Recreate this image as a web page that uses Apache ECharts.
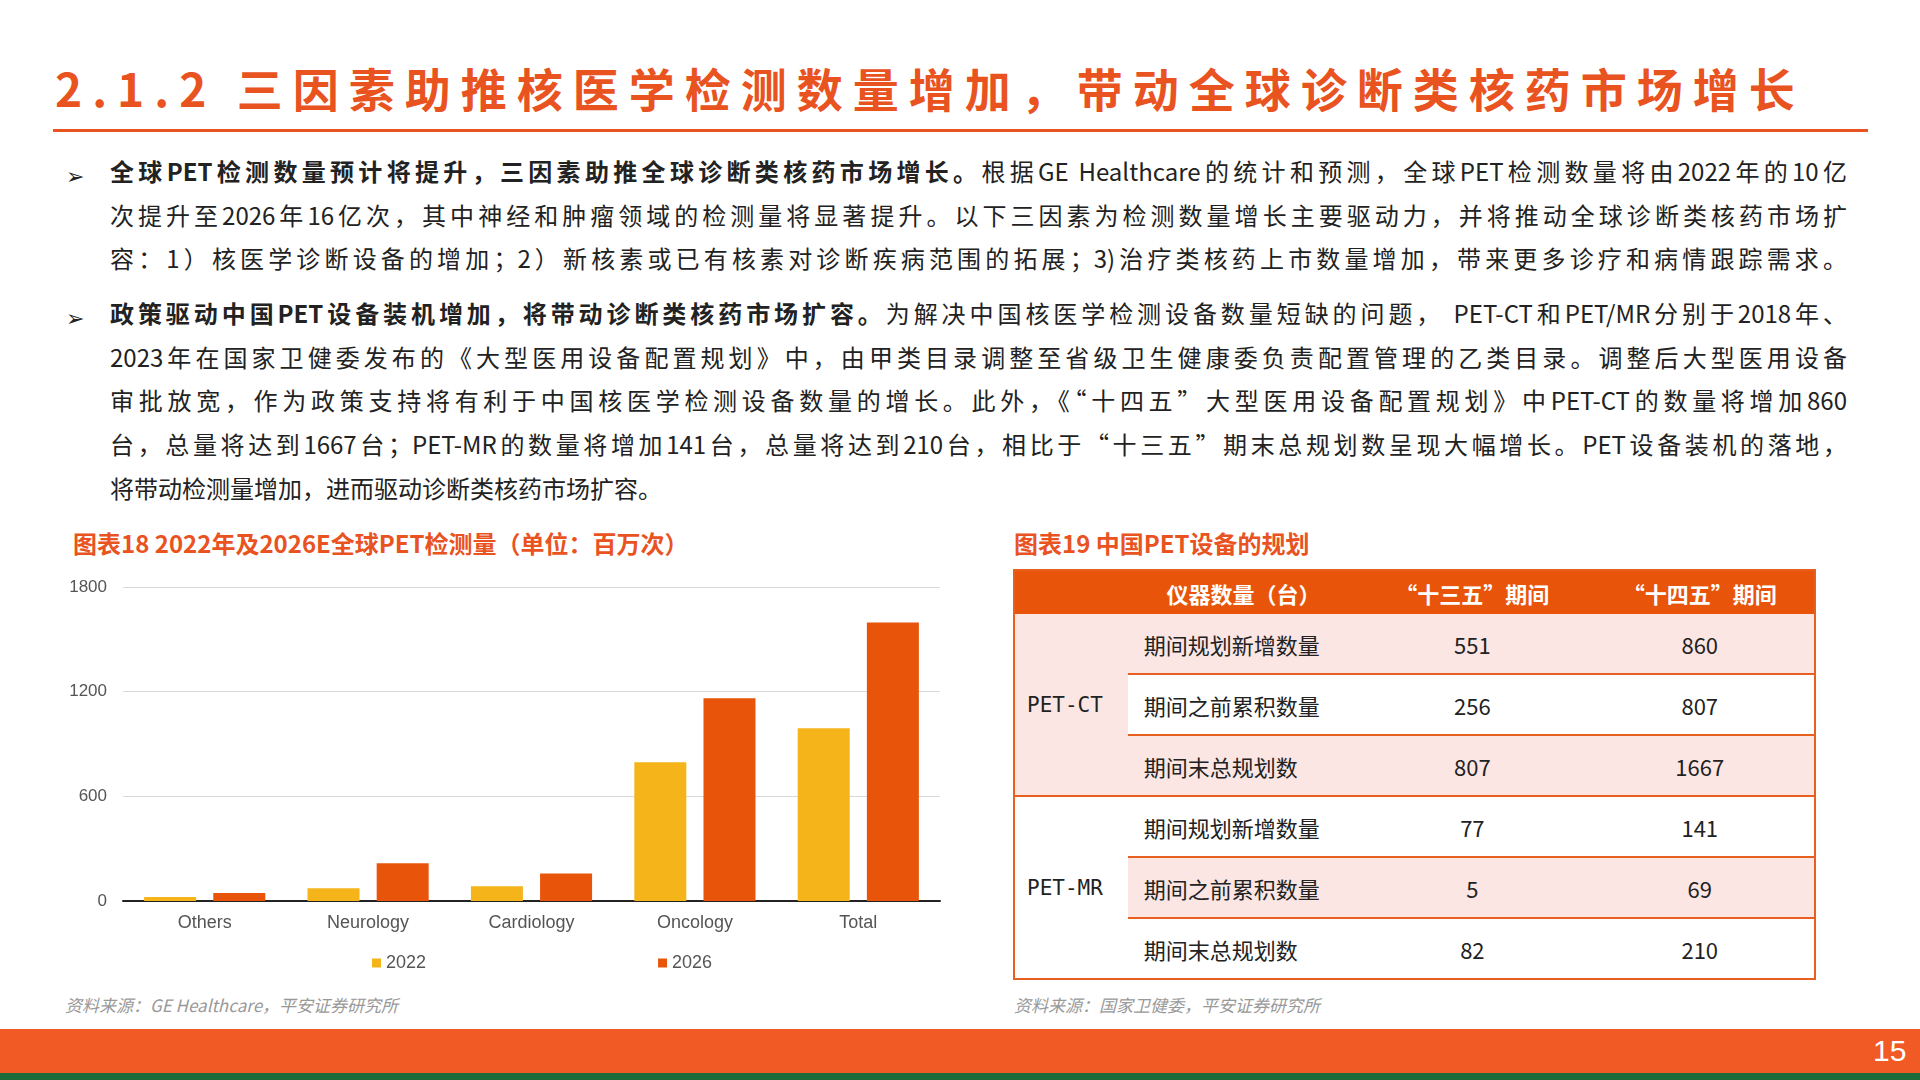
<!DOCTYPE html>
<html><head><meta charset="utf-8">
<script src="https://cdn.jsdelivr.net/npm/echarts@6/dist/echarts.min.js"></script>
<style>
body{margin:0;width:1920px;height:1080px;position:relative;background:#fff;font-family:"Noto Sans CJK SC","Noto Sans",sans-serif;overflow:hidden}
.abs{position:absolute}
#title{left:55px;top:54px;font-size:46px;font-weight:bold;color:#E8531F;letter-spacing:10px;white-space:nowrap}
#rule{left:53px;top:129px;width:1815px;height:3px;background:#E8531F}
.p{left:110px;width:1737px;font-size:24px;line-height:43.7px;color:#222}
.p div{text-align:justify;text-align-last:justify;white-space:nowrap;overflow:visible}
.p div.last{text-align-last:left}
.bul{left:66px;font-size:22px;color:#222}
.ct{font-size:24px;color:#E8531F;font-weight:bold;white-space:nowrap}
.src{font-size:17px;color:#999;font-style:italic;white-space:nowrap}
table{border-collapse:collapse;font-size:22px;color:#222}
td{height:59px;text-align:center;padding:0}
th{height:41px;background:#E8550A;color:#fff;font-weight:bold;font-size:22px}
.pk{background:#FBE6E4}
.bt{border-top:2px solid #E8601F}
</style></head><body>
<div id="title" class="abs">2.1.2 三因素助推核医学检测数量增加，带动全球诊断类核药市场增长</div>
<div id="rule" class="abs"></div>
<div class="abs bul" style="top:158px">➢</div>
<div class="abs p" style="top:149px">
<div><b>全球PET检测数量预计将提升，三因素助推全球诊断类核药市场增长。</b>根据GE Healthcare的统计和预测，全球PET检测数量将由2022年的10亿</div>
<div>次提升至2026年16亿次，其中神经和肿瘤领域的检测量将显著提升。以下三因素为检测数量增长主要驱动力，并将推动全球诊断类核药市场扩</div>
<div>容：1）核医学诊断设备的增加；2）新核素或已有核素对诊断疾病范围的拓展；3)治疗类核药上市数量增加，带来更多诊疗和病情跟踪需求。</div>
</div>
<div class="abs bul" style="top:300px">➢</div>
<div class="abs p" style="top:291px">
<div><b>政策驱动中国PET设备装机增加，将带动诊断类核药市场扩容。</b>为解决中国核医学检测设备数量短缺的问题， PET-CT和PET/MR分别于2018年、</div>
<div>2023年在国家卫健委发布的《大型医用设备配置规划》中，由甲类目录调整至省级卫生健康委负责配置管理的乙类目录。调整后大型医用设备</div>
<div>审批放宽，作为政策支持将有利于中国核医学检测设备数量的增长。此外，《“十四五”大型医用设备配置规划》中PET-CT的数量将增加860</div>
<div>台，总量将达到1667台；PET-MR的数量将增加141台，总量将达到210台，相比于“十三五”期末总规划数呈现大幅增长。PET设备装机的落地，</div>
<div class="last">将带动检测量增加，进而驱动诊断类核药市场扩容。</div>
</div>
<div class="abs ct" style="left:73px;top:525px">图表18 2022年及2026E全球PET检测量（单位：百万次）</div>
<div class="abs ct" style="left:1014px;top:525px">图表19 中国PET设备的规划</div>
<div id="chart" class="abs" style="left:40px;top:570px;width:920px;height:420px"></div>
<table class="abs" id="tb" style="left:1013px;top:569px;width:803px;border:2px solid #E8601F">
<colgroup><col style="width:114px"><col style="width:232px"><col style="width:227px"><col style="width:230px"></colgroup>
</table>
<div class="abs src" style="left:65px;top:992px">资料来源：GE Healthcare，平安证券研究所</div>
<div class="abs src" style="left:1014px;top:992px">资料来源：国家卫健委，平安证券研究所</div>
<div class="abs" style="left:0;top:1029px;width:1920px;height:45px;background:#F15A24"></div>
<div class="abs" style="left:0;top:1073px;width:1920px;height:7px;background:#1E6B3A"></div>
<div class="abs" style="left:1873px;top:1034px;color:#fff;font-size:30px;font-family:Arial,'Liberation Sans'">15</div>
<script>
const categories=['Others','Neurology','Cardiology','Oncology','Total'];
const v2022=[23,73,84,795,990];
const v2026=[46,217,158,1162,1596];
const yTicks=[0,600,1200,1800];
const tableHead=['仪器数量（台）','“十三五”期间','“十四五”期间'];
const groups=['PET-CT','PET-MR'];
const rowNames=['期间规划新增数量','期间之前累积数量','期间末总规划数'];
const s13=[[551,256,807],[77,5,82]];
const s14=[[860,807,1667],[141,69,210]];

let h='<tr><th></th><th>'+tableHead.join('</th><th>')+'</th></tr>';
groups.forEach((g,gi)=>{
  rowNames.forEach((r,ri)=>{
    const pink = gi===0 ? ri!==1 : ri===1;
    const cls=(pink?'pk ':'')+((ri>0||gi>0)?'bt':'');
    h+='<tr>';
    if(ri===0) h+='<td rowspan="3" class="'+(gi===0?'pk ':'')+(gi>0?'bt':'')+'" style="text-align:left;padding-left:12px;font-family:DejaVu Sans Mono,monospace;font-size:21px">'+g+'</td>';
    h+='<td class="'+cls+'" style="text-align:left;padding-left:16px">'+r+'</td>';
    h+='<td class="'+cls+'">'+s13[gi][ri]+'</td>';
    h+='<td class="'+cls+'">'+s14[gi][ri]+'</td></tr>';
  });
});
document.getElementById('tb').innerHTML+=h;

const c=echarts.init(document.getElementById('chart'));
c.setOption({
  animation:false,
  grid:{left:83,right:20,top:17,bottom:89},
  legend:{bottom:13,left:327,itemGap:232,itemWidth:9,itemHeight:9,icon:'rect',textStyle:{fontSize:18,color:'#555',fontFamily:'Liberation Sans'},data:['2022','2026']},
  xAxis:{type:'category',data:categories,axisTick:{show:false},axisLine:{lineStyle:{color:'#222',width:2}},axisLabel:{fontSize:18,color:'#555',margin:13,fontFamily:'Liberation Sans'}},
  yAxis:{type:'value',min:yTicks[0],max:yTicks[3],interval:600,axisLabel:{fontSize:17,color:'#555',margin:16,fontFamily:'Liberation Sans',formatter:v=>String(v)},splitLine:{lineStyle:{color:'#d9d9d9'}}},
  series:[
    {name:'2022',type:'bar',data:v2022,itemStyle:{color:'#F5B41A'},barWidth:52,barGap:'33%'},
    {name:'2026',type:'bar',data:v2026,itemStyle:{color:'#E8550A'},barWidth:52}
  ]
});
</script>
</body></html>
